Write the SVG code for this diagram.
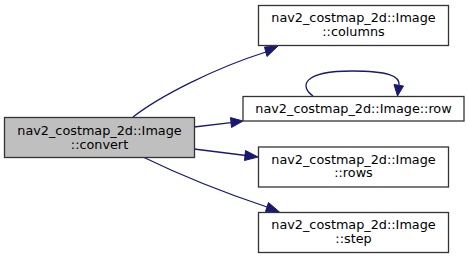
<svg xmlns="http://www.w3.org/2000/svg" width="469" height="259" viewBox="0 0 469 259">
<style>
  .node rect { fill: #ffffff; stroke: #333333; stroke-width: 1.3; }
  .node.current rect { fill: #bfbfbf; }
  .node text { font-family: "DejaVu Sans", sans-serif; font-size: 12.8px; fill: #000000; text-anchor: middle; }
  .edge { fill: none; stroke: #191970; stroke-width: 1.3; }
  .head { fill: #191970; stroke: #191970; stroke-width: 1; }
</style>
<rect x="0" y="0" width="469" height="259" fill="#ffffff"/>
<g id="connectors">
  <path class="edge" d="M133,117 C160,96 215,68 266,52"/>
  <polygon class="head" points="264.5,47 278,46 267,56.5"/>
  <path class="edge" d="M194,127 L231,122.6"/>
  <polygon class="head" points="230.5,117.6 243,121 231.5,127.5"/>
  <path class="edge" d="M194,149 L246,155.5"/>
  <polygon class="head" points="245.5,150.5 258,157 244.5,160.5"/>
  <path class="edge" d="M143,157 C180,175 225,193 267,207"/>
  <polygon class="head" points="268.5,202.5 280,212.5 265.5,211.5"/>
  <path class="edge" d="M313,96 C300,87 301,71 352,71 C388,71 400,76 399,85"/>
  <polygon class="head" points="394,84.5 397.5,96 403.5,86"/>
</g>
<g id="node_convert" class="node current">
  <rect x="4.5" y="117.5" width="190" height="40"/>
  <text x="99.5" y="135">nav2_costmap_2d::Image</text>
  <text x="99.5" y="148.5">::convert</text>
</g>
<g id="node_columns" class="node">
  <rect x="258.5" y="5.5" width="190" height="40"/>
  <text x="353.5" y="22">nav2_costmap_2d::Image</text>
  <text x="353.5" y="35.5">::columns</text>
</g>
<g id="node_row" class="node">
  <rect x="243" y="96.5" width="221" height="24.5"/>
  <text x="353.5" y="113">nav2_costmap_2d::Image::row</text>
</g>
<g id="node_rows" class="node">
  <rect x="258.5" y="147" width="190" height="40"/>
  <text x="353.5" y="163.5">nav2_costmap_2d::Image</text>
  <text x="353.5" y="177">::rows</text>
</g>
<g id="node_step" class="node">
  <rect x="258.5" y="212.5" width="190" height="40"/>
  <text x="353.5" y="229">nav2_costmap_2d::Image</text>
  <text x="353.5" y="242.5">::step</text>
</g>
</svg>
